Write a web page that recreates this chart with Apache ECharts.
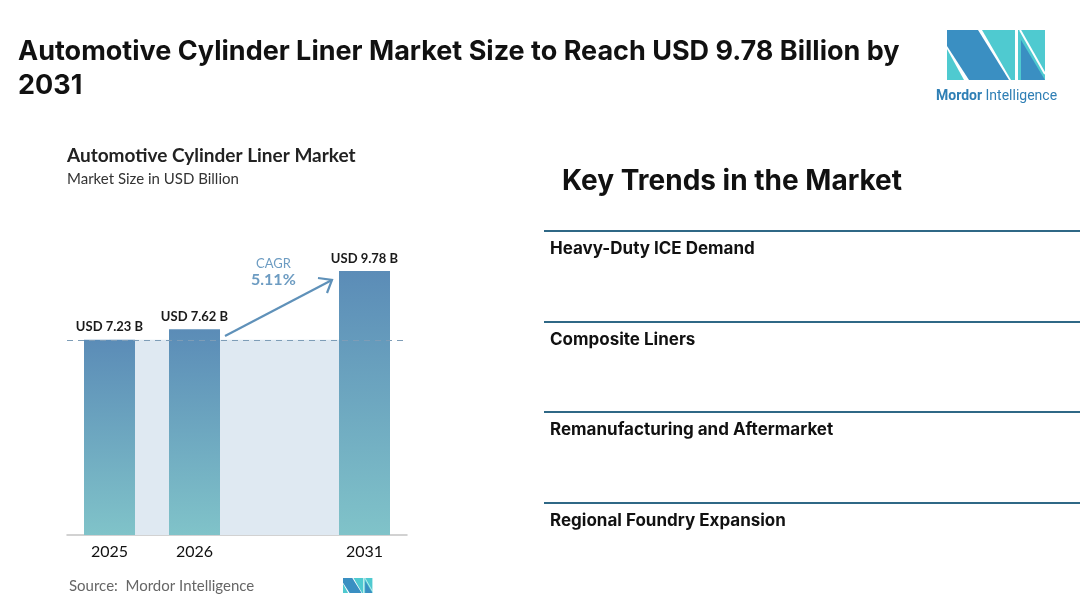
<!DOCTYPE html>
<html>
<head>
<meta charset="utf-8">
<style>
  html, body { margin: 0; padding: 0; background: #fff; }
  #chart { width: 1080px; height: 605px; }
</style>
<script src="https://cdn.jsdelivr.net/npm/echarts@6/dist/echarts.min.js"></script>
</head>
<body>
<div id="chart"></div>
<script>
// data
const years = ['2025', '2026', '', '2031']
const marketSize = [7.23, 7.62, null, 9.78]
const baseValue = 7.23
const baseBand = [7.23, 7.23, 7.23, 7.23]
const cagrText = '5.11%'
const trends = [
  'Heavy-Duty ICE Demand',
  'Composite Liners',
  'Remanufacturing and Aftermarket',
  'Regional Foundry Expansion'
]

const DARK = '#3a8fc2'
const TEAL = '#4fcad0'

const chart = echarts.init(document.getElementById('chart'), null, { renderer: 'canvas' })

// little M logo made of polygons, origin at x,y, scale s (logo is ~98x50 at s=1)
const logo = (x, y, s) => {
  const p = pts => pts.map(([a, b]) => [x + a * s, y + b * s])
  return [
    { type: 'polygon', shape: { points: p([[0, 19], [0, 50], [17, 50]]) }, style: { fill: TEAL } },
    { type: 'polygon', shape: { points: p([[0, 0], [31, 0], [62, 50], [22, 50], [0, 16]]) }, style: { fill: DARK } },
    { type: 'polygon', shape: { points: p([[35, 0], [68, 0], [68, 50], [64, 50]]) }, style: { fill: TEAL } },
    { type: 'rect', shape: { x: x + 71 * s, y: y, width: 27 * s, height: 50 * s }, style: { fill: TEAL } },
    { type: 'polygon', shape: { points: p([[74, 10], [98, 50], [74, 50]]) }, style: { fill: DARK } },
    { type: 'line', shape: { x1: x + 73 * s, y1: y, x2: x + 98 * s, y2: y + 44 * s }, style: { stroke: '#fff', lineWidth: 2 * s } }
  ]
}

const trendGraphics = []
const lineY = [231, 322, 412, 503]
trends.forEach((t, i) => {
  trendGraphics.push({
    type: 'line',
    shape: { x1: 544, y1: lineY[i], x2: 1080, y2: lineY[i] },
    style: { stroke: '#2f6886', lineWidth: 2 }
  })
  trendGraphics.push({
    type: 'text',
    left: 550,
    top: lineY[i] + 9,
    style: { text: t, font: 'bold 17px Inter, "Noto Sans", sans-serif', fill: '#111' }
  })
})

chart.setOption({
  animation: false,
  title: {
    text: 'Automotive Cylinder Liner Market Size to Reach USD 9.78 Billion by 2031',
    left: 13,
    top: 30,
    textStyle: {
      fontFamily: 'Inter, "Noto Sans", sans-serif',
      fontWeight: 'bold',
      fontSize: 27,
      color: '#111',
      width: 900,
      overflow: 'break',
      lineHeight: 34
    }
  },
  grid: { left: 67, width: 340, top: 265, bottom: 70 },
  xAxis: {
    type: 'category',
    data: years,
    axisLine: { lineStyle: { color: '#c4c4c4', width: 1.5 } },
    axisTick: { show: false },
    axisLabel: { color: '#111', fontSize: 16, fontFamily: 'Lato, sans-serif', margin: 9 }
  },
  yAxis: {
    type: 'value',
    min: 0,
    max: 10,
    show: false,
    splitLine: { show: false }
  },
  series: [
    {
      // light band between the first and last bar, up to the base year level
      type: 'line',
      data: baseBand,
      symbol: 'none',
      silent: true,
      z: 1,
      lineStyle: { width: 0 },
      areaStyle: { color: '#dfe9f2', opacity: 1 },
      markLine: {
        silent: true,
        symbol: 'none',
        label: { show: false },
        lineStyle: { color: '#7e9db7', type: [6, 5], width: 1 },
        data: [{ yAxis: baseValue }]
      }
    },
    {
      type: 'bar',
      data: marketSize,
      barWidth: 51,
      barGap: '-100%',
      z: 3,
      itemStyle: {
        color: new echarts.graphic.LinearGradient(0, 0, 0, 1, [
          { offset: 0, color: '#5b8cb7' },
          { offset: 1, color: '#80c3c9' }
        ])
      },
      label: {
        show: true,
        position: 'top',
        distance: 6,
        formatter: p => 'USD ' + p.value.toFixed(2) + ' B',
        color: '#1a1a1a',
        fontSize: 13,
        fontWeight: 'bold',
        fontFamily: 'Lato, sans-serif'
      }
    }
  ],
  graphic: [
    {
      type: 'text', left: 67, top: 146,
      style: { text: 'Automotive Cylinder Liner Market', font: 'bold 19px Lato, sans-serif', fill: '#222' }
    },
    {
      type: 'text', left: 67, top: 172,
      style: { text: 'Market Size in USD Billion', font: '15px Lato, sans-serif', fill: '#333' }
    },
    {
      type: 'text', left: 256, top: 257,
      style: { text: 'CAGR', font: '13px Lato, sans-serif', fill: '#6d9cc2' }
    },
    {
      type: 'text', left: 251, top: 272,
      style: { text: cagrText, font: 'bold 16px Lato, sans-serif', fill: '#6d9cc2' }
    },
    {
      type: 'polyline',
      shape: { points: [[225, 336], [332, 280]] },
      style: { stroke: '#5f91b9', lineWidth: 2.2 }
    },
    {
      type: 'polyline',
      shape: { points: [[318, 278], [332, 280], [327, 293]] },
      style: { stroke: '#5f91b9', lineWidth: 2.2, fill: null }
    },
    {
      type: 'text', left: 69, top: 579,
      style: { text: 'Source:  Mordor Intelligence', font: '15px Lato, sans-serif', fill: '#666' }
    },
    ...logo(343, 578, 0.3),
    ...logo(947, 30, 1),
    {
      type: 'text', left: 936, top: 89,
      style: {
        rich: {
          a: { fontFamily: 'Roboto, sans-serif', fontWeight: 'bold', fontSize: 14, fill: '#2f7fb5' },
          b: { fontFamily: 'Roboto, sans-serif', fontSize: 14, fill: '#2f7fb5' }
        },
        text: '{a|Mordor}{b| Intelligence}'
      }
    },
    {
      type: 'text', left: 562, top: 168,
      style: { text: 'Key Trends in the Market', font: 'bold 28px Inter, "Noto Sans", sans-serif', fill: '#111' }
    },
    ...trendGraphics
  ]
})
</script>
</body>
</html>
